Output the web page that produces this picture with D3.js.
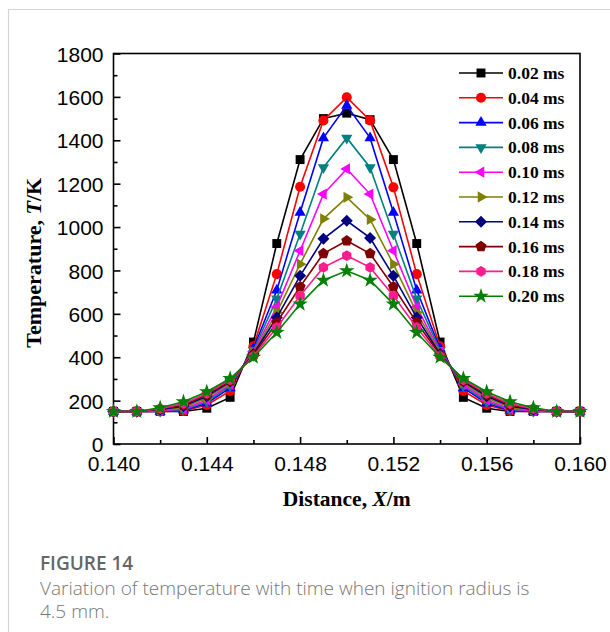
<!DOCTYPE html>
<html>
<head>
<meta charset="utf-8">
<script src="https://cdn.jsdelivr.net/npm/d3@7"></script>
<style>
  body { margin: 0; background: #fff; }
  svg { display: block; }
</style>
</head>
<body>
<svg id="chart" width="610" height="632"></svg>
<script>
// Distance positions (m)
var distance = [0.140, 0.141, 0.142, 0.143, 0.144, 0.145, 0.146, 0.147, 0.148, 0.149, 0.150,
                0.151, 0.152, 0.153, 0.154, 0.155, 0.156, 0.157, 0.158, 0.159, 0.160];

// Time labels for each series
var times = ["0.02 ms", "0.04 ms", "0.06 ms", "0.08 ms", "0.10 ms",
             "0.12 ms", "0.14 ms", "0.16 ms", "0.18 ms", "0.20 ms"];

// Temperature (K), one array per time
var t002 = [150, 150, 150, 150, 165, 215, 470, 924, 1311, 1500, 1525, 1495, 1311, 924, 470, 215, 165, 150, 150, 150, 150];
var t004 = [150, 150, 150, 152, 180, 245, 450, 783, 1186, 1491, 1598, 1491, 1183, 783, 450, 245, 180, 152, 150, 150, 150];
var t006 = [150, 150, 150, 155, 188, 258, 440, 709, 1067, 1411, 1560, 1411, 1067, 709, 440, 258, 188, 155, 150, 150, 150];
var t008 = [150, 150, 152, 158, 195, 268, 432, 669, 968, 1275, 1411, 1275, 968, 669, 432, 268, 195, 158, 152, 150, 150];
var t010 = [150, 150, 154, 162, 203, 275, 425, 632, 891, 1152, 1268, 1152, 891, 632, 425, 275, 203, 162, 154, 150, 150];
var t012 = [150, 150, 156, 168, 212, 282, 420, 606, 829, 1038, 1137, 1035, 829, 606, 420, 282, 212, 168, 156, 150, 150];
var t014 = [150, 150, 159, 174, 220, 288, 415, 583, 775, 946, 1029, 950, 775, 583, 415, 288, 220, 174, 159, 150, 150];
var t016 = [150, 150, 161, 180, 227, 292, 410, 560, 725, 878, 937, 878, 725, 560, 410, 292, 227, 180, 161, 150, 150];
var t018 = [150, 150, 163, 186, 233, 296, 405, 537, 683, 814, 868, 814, 683, 537, 405, 296, 233, 186, 163, 150, 150];
var t020 = [150, 150, 167, 195, 241, 302, 400, 514, 645, 755, 798, 755, 645, 514, 400, 302, 241, 195, 167, 150, 150];

var seriesValues = [t002, t004, t006, t008, t010, t012, t014, t016, t018, t020];

var colors = ["#000000", "#ff0000", "#0000ff", "#008080", "#ff00ff",
              "#808000", "#000080", "#800000", "#ff1c8c", "#008000"];

var yTicks = [0, 200, 400, 600, 800, 1000, 1200, 1400, 1600, 1800];
var xTicks = [0.140, 0.144, 0.148, 0.152, 0.156, 0.160];

// Regular polygon as a custom d3 symbol type. size is used as the radius here.
function polygon(n, rot) {
  return {
    draw: function (context, r) {
      for (var i = 0; i < n; i++) {
        var a = rot + i * 2 * Math.PI / n;
        var px = r * Math.sin(a), py = -r * Math.cos(a);
        if (i === 0) context.moveTo(px, py); else context.lineTo(px, py);
      }
      context.closePath();
    }
  };
}

var markerTypes = [
  { type: d3.symbolSquare, size: 80 },
  { type: d3.symbolCircle, size: 80 },
  { type: polygon(3, 0), size: 6.5 },
  { type: polygon(3, Math.PI), size: 6.5 },
  { type: polygon(3, -Math.PI / 2), size: 6.5 },
  { type: polygon(3, Math.PI / 2), size: 6.5 },
  { type: polygon(4, 0), size: 6 },
  { type: polygon(5, 0), size: 5.8 },
  { type: polygon(6, 0), size: 5.4 },
  { type: d3.symbolStar, size: 75 }
];

var svg = d3.select("#chart");

// page frame lines
svg.append("line").attr("x1", 8.5).attr("x2", 610).attr("y1", 9.5).attr("y2", 9.5)
  .attr("stroke", "#d4d4d4").attr("stroke-width", 1.2);
svg.append("line").attr("x1", 8.5).attr("x2", 8.5).attr("y1", 9.5).attr("y2", 632)
  .attr("stroke", "#d4d4d4").attr("stroke-width", 1.2);

var plotLeft = 113.5, plotRight = 580, plotTop = 53.5, plotBottom = 444;

var x = d3.scaleLinear().domain([0.140, 0.160]).range([plotLeft, plotRight]);
var y = d3.scaleLinear().domain([0, 1800]).range([plotBottom, plotTop]);

// plot frame
svg.append("rect")
  .attr("x", plotLeft).attr("y", plotTop)
  .attr("width", plotRight - plotLeft).attr("height", plotBottom - plotTop)
  .attr("fill", "none").attr("stroke", "#000").attr("stroke-width", 1.6);

// x axis ticks (inward)
var xAxis = d3.axisBottom(x).tickValues(xTicks).tickSize(-7).tickPadding(12)
  .tickFormat(d3.format(".3f"));
var gx = svg.append("g").attr("transform", "translate(0," + plotBottom + ")").call(xAxis);
var xMinor = d3.axisBottom(x).tickValues([0.142, 0.146, 0.150, 0.154, 0.158])
  .tickSize(-4).tickFormat("");
var gxm = svg.append("g").attr("transform", "translate(0," + plotBottom + ")").call(xMinor);

// y axis ticks (inward)
var yAxis = d3.axisLeft(y).tickValues(yTicks).tickSize(-7).tickPadding(10)
  .tickFormat(d3.format("d"));
var gy = svg.append("g").attr("transform", "translate(" + plotLeft + ",0)").call(yAxis);
var yMinor = d3.axisLeft(y).tickValues([100, 300, 500, 700, 900, 1100, 1300, 1500, 1700])
  .tickSize(-4).tickFormat("");
var gym = svg.append("g").attr("transform", "translate(" + plotLeft + ",0)").call(yMinor);

[gx, gxm, gy, gym].forEach(function (g) {
  g.select(".domain").remove();
  g.selectAll(".tick line").attr("stroke", "#000").attr("stroke-width", 1.6);
  g.selectAll(".tick text")
    .attr("fill", "#000")
    .style("font-family", "'Liberation Sans', Arial, sans-serif")
    .style("font-size", "21px");
});
gy.selectAll(".tick text").attr("dy", "0.36em");

// axis titles
svg.append("text")
  .attr("x", (plotLeft + plotRight) / 2).attr("y", 506)
  .attr("text-anchor", "middle")
  .style("font-family", "'Liberation Serif', 'Times New Roman', serif")
  .style("font-weight", "bold").style("font-size", "21.5px")
  .html("Distance, <tspan font-style='italic'>X</tspan>/m");

svg.append("text")
  .attr("transform", "translate(41," + ((plotTop + plotBottom) / 2 + 14) + ") rotate(-90)")
  .attr("text-anchor", "middle")
  .style("font-family", "'Liberation Serif', 'Times New Roman', serif")
  .style("font-weight", "bold").style("font-size", "22px")
  .html("Temperature, <tspan font-style='italic'>T</tspan>/K");

// series
var line = d3.line()
  .x(function (d, i) { return x(distance[i]); })
  .y(function (d) { return y(d); });

seriesValues.forEach(function (vals, s) {
  var g = svg.append("g");
  g.append("path")
    .attr("d", line(vals))
    .attr("fill", "none")
    .attr("stroke", colors[s])
    .attr("stroke-width", 1.6);
  var sym = d3.symbol().type(markerTypes[s].type).size(markerTypes[s].size);
  g.selectAll("path.mk").data(vals).enter().append("path")
    .attr("class", "mk")
    .attr("d", sym)
    .attr("transform", function (d, i) { return "translate(" + x(distance[i]) + "," + y(d) + ")"; })
    .attr("fill", colors[s]);
});

// legend
var legend = svg.append("g");
times.forEach(function (t, s) {
  var ly = 73 + s * 24.8;
  legend.append("line")
    .attr("x1", 459).attr("x2", 503).attr("y1", ly).attr("y2", ly)
    .attr("stroke", colors[s]).attr("stroke-width", 1.6);
  legend.append("path")
    .attr("d", d3.symbol().type(markerTypes[s].type).size(markerTypes[s].size)())
    .attr("transform", "translate(481," + ly + ")")
    .attr("fill", colors[s]);
  legend.append("text")
    .attr("x", 508).attr("y", ly + 6)
    .style("font-family", "'Liberation Serif', 'Times New Roman', serif")
    .style("font-weight", "bold").style("font-size", "17.5px")
    .text(t);
});

// caption
svg.append("text")
  .attr("x", 40).attr("y", 570)
  .attr("fill", "#666")
  .style("font-family", "'Open Sans', sans-serif")
  .style("font-weight", "600").style("font-size", "19px")
  .text("FIGURE 14");
svg.append("text")
  .attr("x", 40).attr("y", 595)
  .attr("fill", "#777")
  .style("font-family", "'Open Sans', sans-serif")
  .style("font-weight", "300").style("font-size", "19px")
  .text("Variation of temperature with time when ignition radius is");
svg.append("text")
  .attr("x", 40).attr("y", 618)
  .attr("fill", "#777")
  .style("font-family", "'Open Sans', sans-serif")
  .style("font-weight", "300").style("font-size", "19px")
  .text("4.5 mm.");
</script>
</body>
</html>
